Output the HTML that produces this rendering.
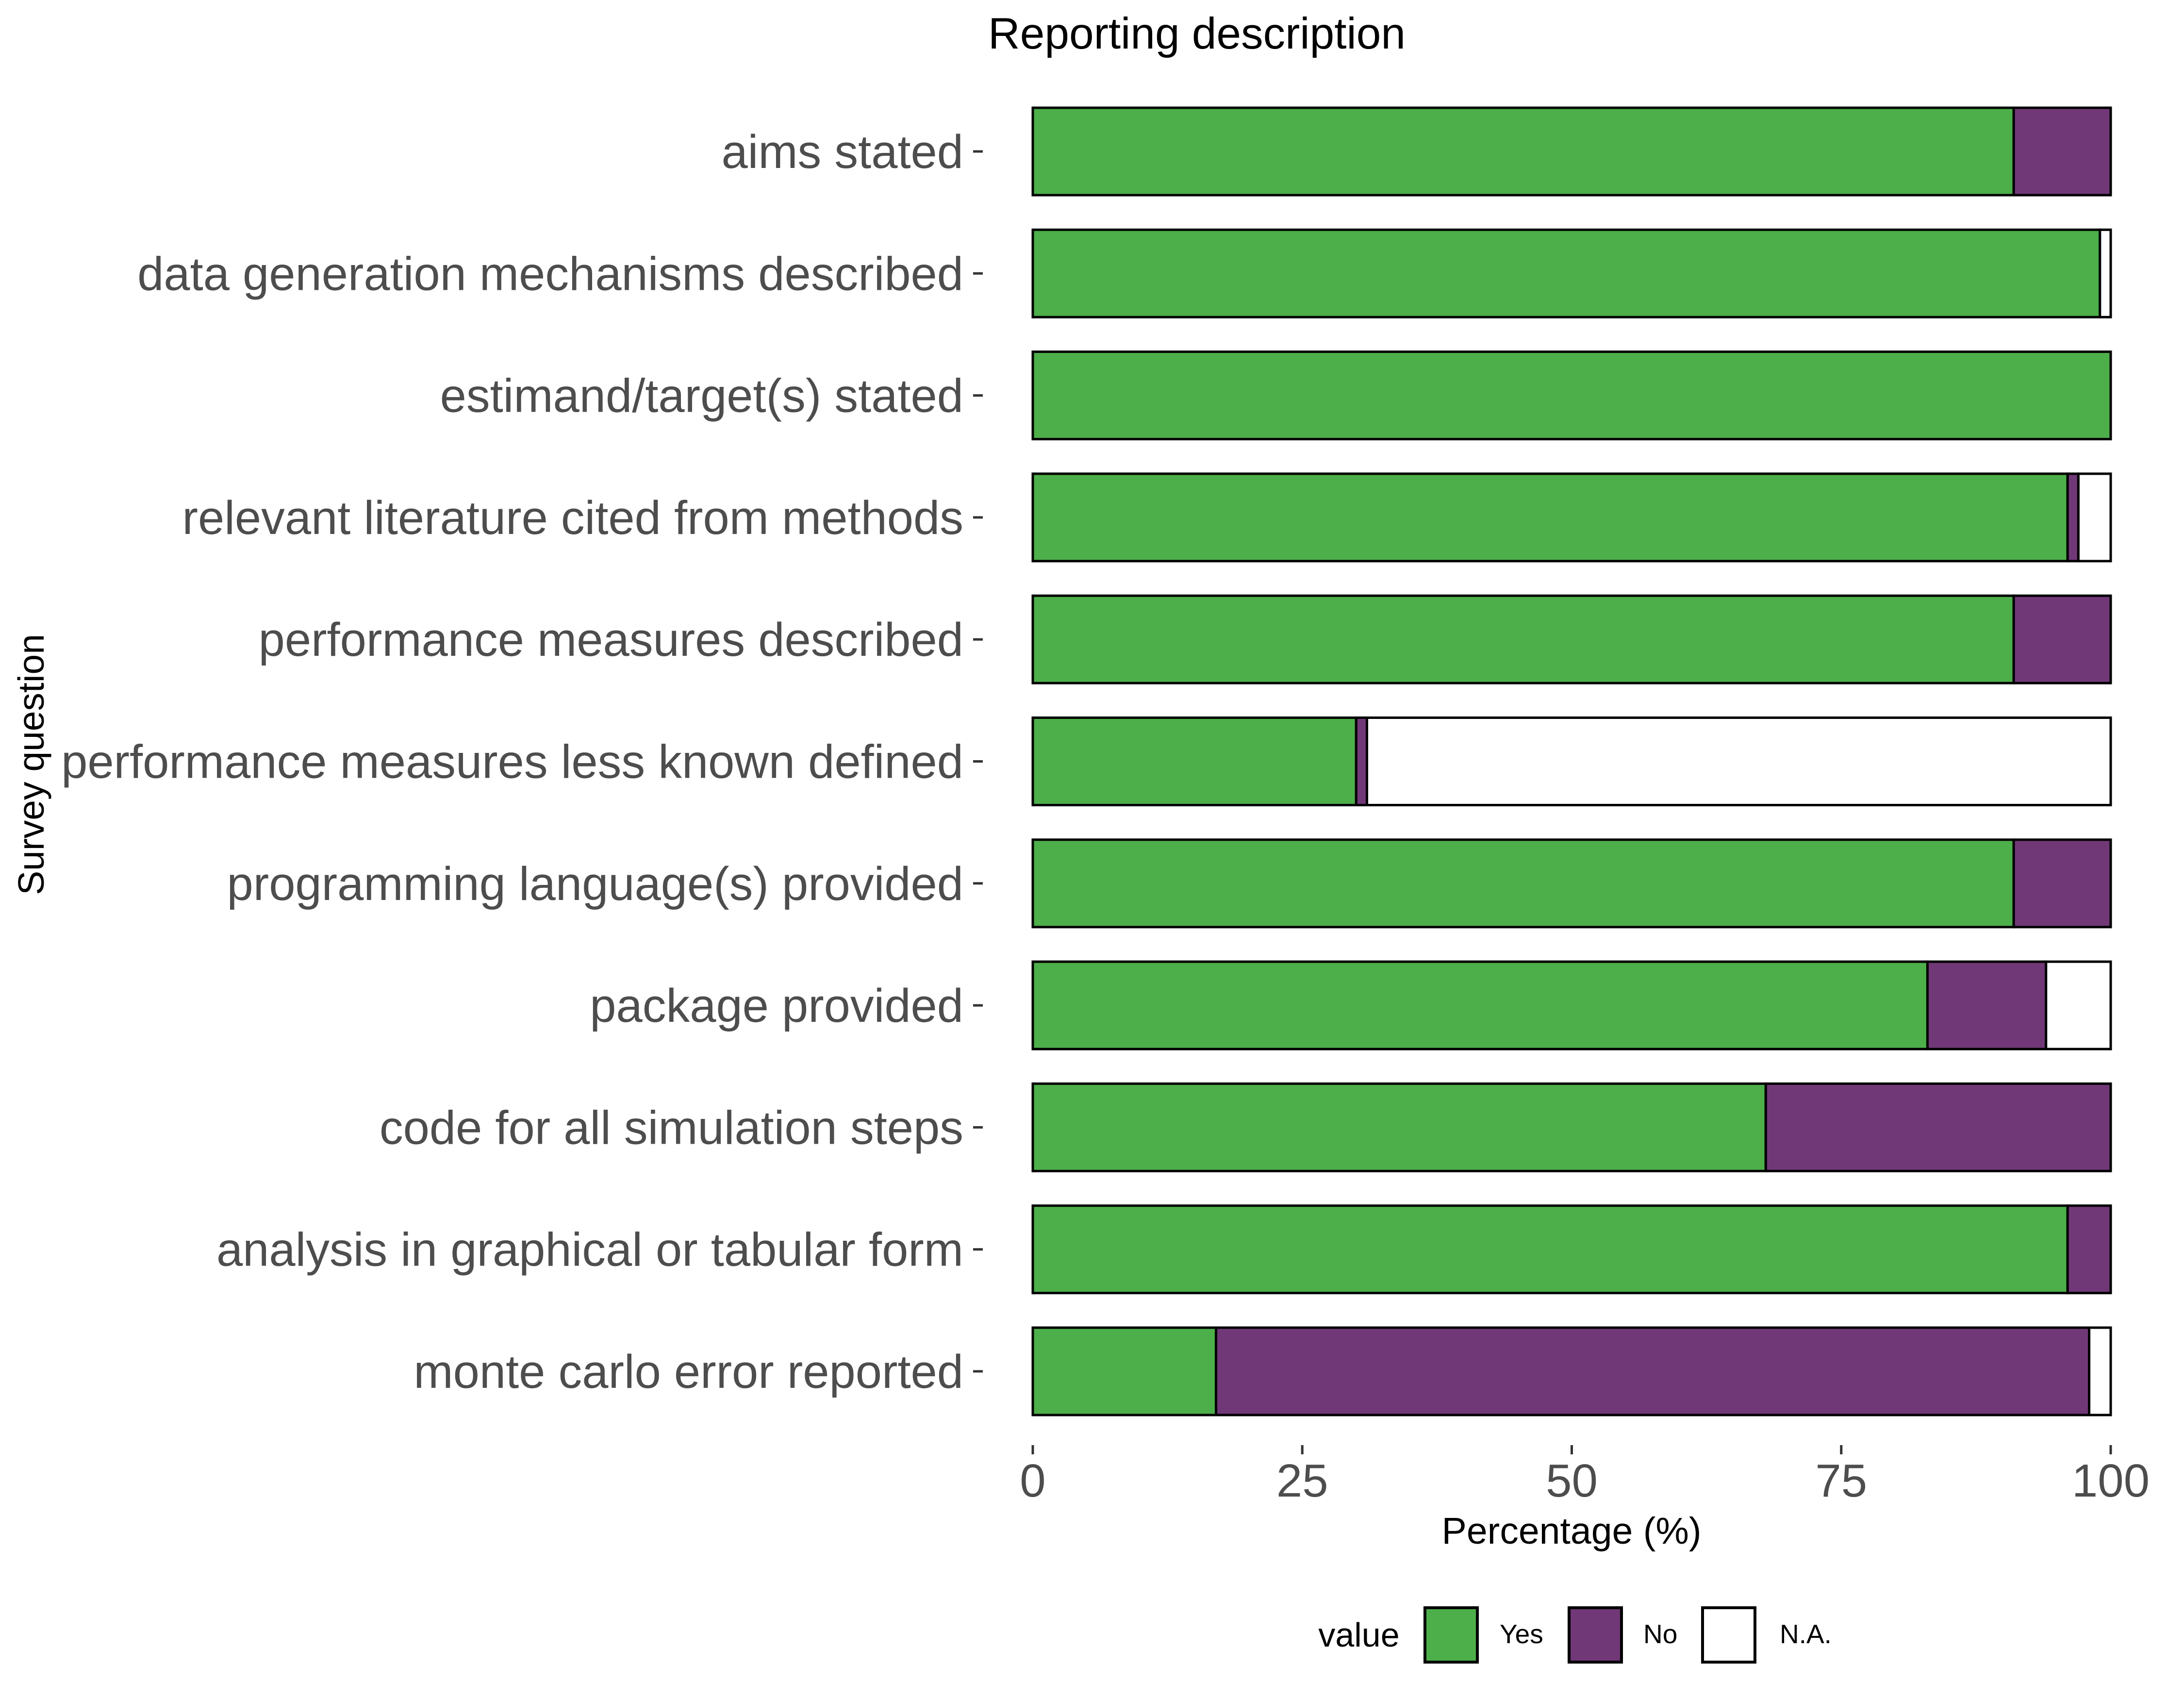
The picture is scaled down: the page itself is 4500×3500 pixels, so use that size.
<!DOCTYPE html>
<html><head><meta charset="utf-8"><style>
html,body{margin:0;padding:0;background:#fff;}
svg{display:block;font-family:"Liberation Sans",Arial,sans-serif;}
</style></head><body>
<svg id="chart" width="4500" height="3500" viewBox="0 0 4500 3500">
<text x="2466" y="100" font-size="91" text-anchor="middle" fill="#000">Reporting description</text>
<text transform="translate(90,1575) rotate(-90)" font-size="75" text-anchor="middle" fill="#000">Survey question</text>
<text x="3238" y="3180" font-size="77" text-anchor="middle" fill="#000">Percentage (%)</text>
<g id="bars"></g>
<g id="xaxis"></g>
<g id="yaxis"></g>
<g>
<text x="2800" y="3392" font-size="70" text-anchor="middle" fill="#000">value</text>
<rect x="2936" y="3312" width="108" height="112" fill="#4daf4a" stroke="#000" stroke-width="6"/>
<text x="3090" y="3385" font-size="55" fill="#000">Yes</text>
<rect x="3233" y="3312" width="108" height="112" fill="#713877" stroke="#000" stroke-width="6"/>
<text x="3386" y="3385" font-size="55" fill="#000">No</text>
<rect x="3508" y="3312" width="108" height="112" fill="#fff" stroke="#000" stroke-width="6"/>
<text x="3667" y="3385" font-size="55" fill="#000">N.A.</text>
</g>
</svg>
<script>
const categories = ["aims stated","data generation mechanisms described","estimand/target(s) stated","relevant literature cited from methods","performance measures described","performance measures less known defined","programming language(s) provided","package provided","code for all simulation steps","analysis in graphical or tabular form","monte carlo error reported"];
const yesValues = [91,99,100,96,91,30,91,83,68,96,17];
const noValues  = [9,0,0,1,9,1,9,11,32,4,81];
const naValues  = [0,1,0,3,0,69,0,6,0,0,2];
const xTicks = [0,25,50,75,100];

const NS="http://www.w3.org/2000/svg";
const X0=2128, X1=4349, Y0=312, PITCH=251.3, BH=180;
function xs(v){return X0+(X1-X0)*v/100;}
function yc(i){return Y0+PITCH*i;}
function mk(tag,attrs,parent){const e=document.createElementNS(NS,tag);for(const k in attrs)e.setAttribute(k,attrs[k]);parent.appendChild(e);return e;}
const bars=document.getElementById('bars'), xa=document.getElementById('xaxis'), ya=document.getElementById('yaxis');
const series=[[yesValues,'#4daf4a','yes'],[noValues,'#713877','no'],[naValues,'#ffffff','na']];
categories.forEach((c,i)=>{
  let acc=0;
  series.forEach(([arr,col,nm])=>{
    const v=arr[i];
    if(v>0){
      const r=mk('rect',{x:xs(acc),y:yc(i)-BH/2,width:xs(acc+v)-xs(acc),height:BH,fill:col,stroke:'#000','stroke-width':5},bars);
      
      
    }
    acc+=v;
  });
  const t=mk('text',{x:1985,y:yc(i)+34,'font-size':97.5,'text-anchor':'end',fill:'#4d4d4d'},ya);
  t.textContent=c;
  
  
  const tk=mk('line',{x1:2005,x2:2025,y1:yc(i),y2:yc(i),stroke:'#333','stroke-width':5},ya);
  
  
});
xTicks.forEach(v=>{
  const l=mk('line',{x1:xs(v),x2:xs(v),y1:2977,y2:2996,stroke:'#333','stroke-width':5},xa);
  
  
  const t=mk('text',{x:xs(v),y:3083,'font-size':96,'text-anchor':'middle',fill:'#4d4d4d'},xa);
  t.textContent=v;
  
  
});
</script>
</body></html>
